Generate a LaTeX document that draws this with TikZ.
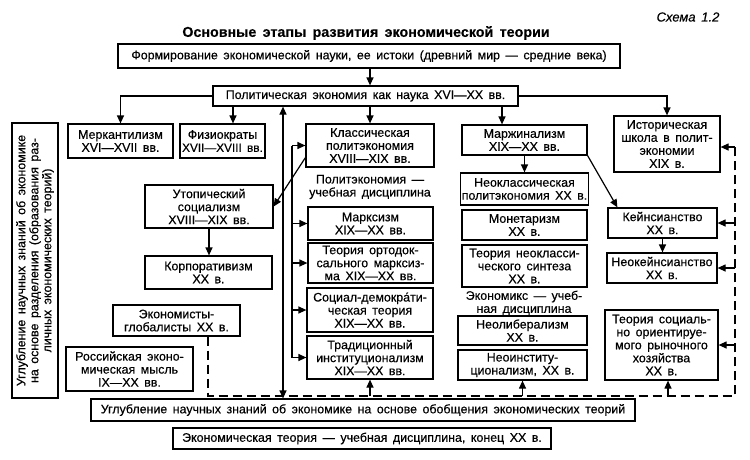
\documentclass[tikz,border=0pt]{standalone}
\usepackage{fontspec}
\setmainfont{Liberation Sans}[WordSpace=1.6, FakeBold=0.4]
\usetikzlibrary{arrows.meta,calc}
\tikzset{
 box/.style={draw, line width=1.2pt, align=center, inner sep=1pt, font=\fontsize{12.4}{13}\selectfont},
 arr/.style={line width=1.2pt, -{Triangle[length=8pt,width=7pt]}},
 arrtwo/.style={line width=1.2pt, {Triangle[length=8pt,width=7pt]}-{Triangle[length=8pt,width=7pt]}},
 ln/.style={line width=1.2pt},
 dsh/.style={line width=1.2pt, dash pattern=on 9pt off 5pt},
 lbl/.style={align=center, inner sep=0pt, font=\fontsize{12.4}{13}\selectfont},
}
\newcommand{\mybox}[6]{\node[box, minimum width={#4-#2}, minimum height={#5-#3}] (#1) at ({(#2+#4)/2},{(#3+#5)/2}) {#6};}
\begin{document}
\begin{tikzpicture}[x=1pt,y=-1pt]
\useasboundingbox (0,0) rectangle (750,459);
\node[font=\bfseries\fontsize{14.3}{16}\selectfont] (title) at (366,33) {Основные этапы развития экономической теории};
\node[font=\itshape\fontsize{13}{15}\selectfont] (sch) at (688,17) {Схема 1.2};

\mybox{form}{118}{44}{620}{68}{Формирование экономической науки, ее истоки (древний мир — средние века)}
\mybox{polit}{213}{86}{518}{106}{Политическая экономия как наука XVI—XX вв.}
\mybox{merk}{68}{124}{173}{158}{Меркантилизм\\XVI—XVII вв.}
\mybox{fiz}{180}{124}{265}{158}{Физиократы\\{\fontsize{11.8}{13}\selectfont XVII—XVIII вв.}}
\mybox{utop}{145}{185}{273}{228}{Утопический\\социализм\\XVIII—XIX вв.}
\mybox{korp}{145}{256}{272}{289}{Корпоративизм\\XX в.}
\mybox{glob}{113}{305}{240}{336}{Экономисты-\\глобалисты XX в.}
\mybox{ross}{66}{347}{193}{391}{Российская эконо-\\мическая мысль\\IX—XX вв.}
\mybox{klass}{306}{124}{434}{167}{Классическая\\политэкономия\\XVIII—XIX вв.}
\mybox{marks}{308}{207}{433}{240}{Марксизм\\XIX—XX вв.}
\mybox{ortod}{308}{243}{433}{283}{Теория ортодок-\\сального марксиз-\\ма XIX—XX вв.}
\mybox{socdem}{307}{288}{433}{332}{Социал-демокра́ти-\\ческая теория\\XIX—XX вв.}
\mybox{trad}{307}{336}{433}{379}{Традиционный\\институционализм\\XIX—XX вв.}
\mybox{marg}{462}{125}{587}{155}{Маржинализм\\XIX—XX вв.}
\mybox{neocl}{462}{173}{587}{205}{Неоклассическая\\политэкономия XX в.}
\mybox{monet}{462}{210}{587}{240}{Монетаризм\\XX в.}
\mybox{neosint}{462}{245}{587}{287}{Теория неокласси-\\ческого синтеза\\XX в.}
\mybox{neolib}{458}{316}{587}{345}{Неолиберализм\\XX в.}
\mybox{neoinst}{458}{350}{587}{380}{Неоинститу-\\ционализм, XX в.}
\mybox{hist}{614}{116}{720}{172}{Историческая\\школа в полит-\\экономии\\XIX в.}
\mybox{keyn}{608}{208}{717}{238}{Кейнсианство\\XX в.}
\mybox{neokeyn}{607}{253}{717}{283}{Неокейнсианство\\XX в.}
\mybox{socor}{605}{310}{718}{380}{Теория социаль-\\но ориентируе-\\мого рыночного\\хозяйства\\XX в.}
\mybox{bot1}{91}{399}{635}{421}{Углубление научных знаний об экономике на основе обобщения экономических теорий}
\mybox{bot2}{173}{428}{551}{449}{Экономическая теория — учебная дисциплина, конец XX в.}
\node[box, minimum width=275, minimum height=46, rotate=90] (left) at (35,260.5) {Углубление научных знаний об экономике\\на основе разделения (образования раз-\\личных экономических теорий)};

\node[lbl] (pe) at (370,187) {Политэкономия —\\учебная дисциплина};
\node[lbl] (ek) at (524,303) {Экономикс — учеб-\\ная дисциплина};

\coordinate (fx) at (233,0);
\coordinate (mx) at (502,0);
\coordinate (vx) at (283,0);
\coordinate (bx) at (292,0);
\coordinate (sx) at (668,0);
\coordinate (gd) at (208,396);
\coordinate (rd) at (735,396);
\coordinate (rt) at (735,147);

\draw[arr] (form.south -| klass) -- (polit.north -| klass);
\draw[arr] (polit.south -| klass) -- (klass.north);
\draw[arr] (polit.west) -| (merk.north);
\draw[arr] (polit.south -| fx) -- (fiz.north -| fx);
\draw[arr] (polit.south -| mx) -- (marg.north -| mx);
\draw[arr] (polit.east) -| (hist.north);
\draw[arrtwo] (vx |- bot1.north) -- (vx |- polit.south);
\draw[ln] (bx |- klass) -- (bx |- trad);
\draw[arr] (bx |- klass) -- (klass.west);
\draw[arr] (bx |- marks) -- (marks.west);
\draw[arr] (bx |- ortod) -- (ortod.west);
\draw[arr] (bx |- socdem) -- (socdem.west);
\draw[arr] (bx |- trad) -- (trad.west);
\draw[arr] ([yshift=10pt]klass.south west) -- (utop.east);
\draw[arr] (utop.south) -- (utop.south |- korp.north);
\draw[arr] (marg.south) -- (neocl.north);
\draw[arr] (marg.south east) -- ([xshift=10pt]keyn.north west);
\draw[arr] (keyn.south) -- (keyn.south |- neokeyn.north);
\draw[dsh] (glob.south -| gd) -- (gd) -- (rd) -- (rt);
\draw[arr] (rt) -- (rt -| hist.east);
\draw[arr] (rd |- keyn) -- (keyn.east);
\draw[arr] (rd |- neokeyn) -- (neokeyn.east);
\draw[arr] (rd |- socor) -- (socor.east);
\draw[arr] (gd -| trad) -- (trad.south);
\draw[arr] (gd -| neoinst) -- (neoinst.south);
\draw[arr] (gd -| sx) -- (socor.south -| sx);
\end{tikzpicture}
\end{document}
